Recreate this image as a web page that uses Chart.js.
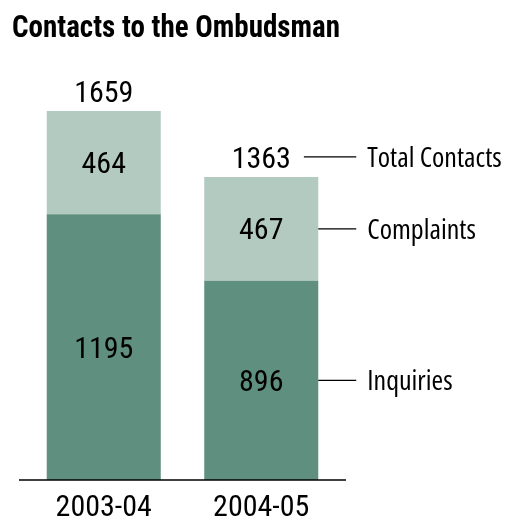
<!DOCTYPE html>
<html>
<head>
<meta charset="utf-8">
<script src="https://cdn.jsdelivr.net/npm/chart.js@4"></script>
<style>
html,body{margin:0;padding:0;background:#fff;}
#wrap{width:506px;height:523px;position:relative;}
</style>
</head>
<body>
<div id="wrap"><canvas id="c" width="506" height="523"></canvas></div>
<script>
const categories = ["2003-04", "2004-05"];
const inquiries = [1195, 896];
const complaints = [464, 467];
const totals = [1659, 1363];
const seriesNames = ["Inquiries", "Complaints", "Total Contacts"];
const titleText = "Contacts to the Ombudsman";

const FONT = "'Roboto Condensed','DejaVu Sans Condensed',sans-serif";

function setLabelFont(ctx) {
  ctx.font = "28px 'Open Sans','Roboto Condensed',sans-serif";
  try { ctx.fontStretch = 'condensed'; } catch (e) {}
}

const labelPlugin = {
  id: 'labels',
  afterDatasetsDraw(chart) {
    const ctx = chart.ctx;
    const m0 = chart.getDatasetMeta(0);
    const m1 = chart.getDatasetMeta(1);
    const ys = chart.scales.y;
    ctx.save();
    // baseline
    ctx.strokeStyle = '#000';
    ctx.lineWidth = 1.3;
    const by = ys.getPixelForValue(0);
    ctx.beginPath();
    ctx.moveTo(chart.chartArea.left - 6, by);
    ctx.lineTo(chart.chartArea.right + 6, by);
    ctx.stroke();

    ctx.fillStyle = '#000';
    ctx.textAlign = 'center';
    ctx.textBaseline = 'alphabetic';
    ctx.font = "30px " + FONT;
    const capN = 30 * 0.711 / 2;
    for (let i = 0; i < categories.length; i++) {
      const b0 = m0.data[i], b1 = m1.data[i];
      ctx.fillText(String(inquiries[i]), b0.x, (b0.y + b0.base) / 2 + capN);
      ctx.fillText(String(complaints[i]), b1.x, (b1.y + b1.base) / 2 + capN);
      ctx.fillText(String(totals[i]), b1.x, ys.getPixelForValue(totals[i]) - 20 + capN);
    }
    // annotations for last bar
    const last = categories.length - 1;
    const b0 = m0.data[last], b1 = m1.data[last];
    const right = b1.x + b1.width / 2;
    const lineEnd = right + 38;
    const textX = lineEnd + 11;
    const tY = ys.getPixelForValue(totals[last]) - 20;
    const tw = ctx.measureText(String(totals[last])).width;
    ctx.lineWidth = 1.2;
    const lines = [
      [b1.x + tw / 2 + 13, tY, seriesNames[2]],
      [right, (b1.y + b1.base) / 2, seriesNames[1]],
      [right, (b0.y + b0.base) / 2, seriesNames[0]]
    ];
    setLabelFont(ctx);
    ctx.textAlign = 'left';
    const capL = 28 * 0.714 / 2;
    for (const [x0, y, t] of lines) {
      ctx.beginPath();
      ctx.moveTo(x0, y);
      ctx.lineTo(lineEnd, y);
      ctx.stroke();
      ctx.fillText(t, textX, y + capL);
    }
    ctx.restore();
  }
};

new Chart(document.getElementById('c'), {
  type: 'bar',
  data: {
    labels: categories,
    datasets: [
      { label: seriesNames[0], data: inquiries, backgroundColor: '#5f8f7e', borderWidth: 0 },
      { label: seriesNames[1], data: complaints, backgroundColor: '#b3cac1', borderWidth: 0 }
    ]
  },
  options: {
    responsive: false,
    animation: false,
    devicePixelRatio: 1,
    layout: { padding: { top: 5, left: 12, right: 166, bottom: 1 } },
    datasets: { bar: { categoryPercentage: 1, barPercentage: 0.724 } },
    scales: {
      x: {
        stacked: true,
        grid: { display: false, drawTicks: false },
        border: { display: false },
        ticks: { color: '#000', font: { family: FONT, size: 30, lineHeight: 0.9 }, padding: 15 },
        afterFit(s) { s.height = 42; }
      },
      y: {
        stacked: true,
        display: true,
        min: 0,
        max: 1805,
        grid: { display: false, drawTicks: false },
        border: { display: false },
        ticks: { display: false },
        afterFit(s) { s.width = 13; }
      }
    },
    plugins: {
      legend: { display: false },
      tooltip: { enabled: false },
      title: {
        display: true,
        text: titleText,
        align: 'start',
        color: '#000',
        font: { family: FONT, size: 31, weight: 'bold' },
        padding: { top: 6, bottom: 30.4 }
      }
    }
  },
  plugins: [labelPlugin]
});
</script>
</body>
</html>
